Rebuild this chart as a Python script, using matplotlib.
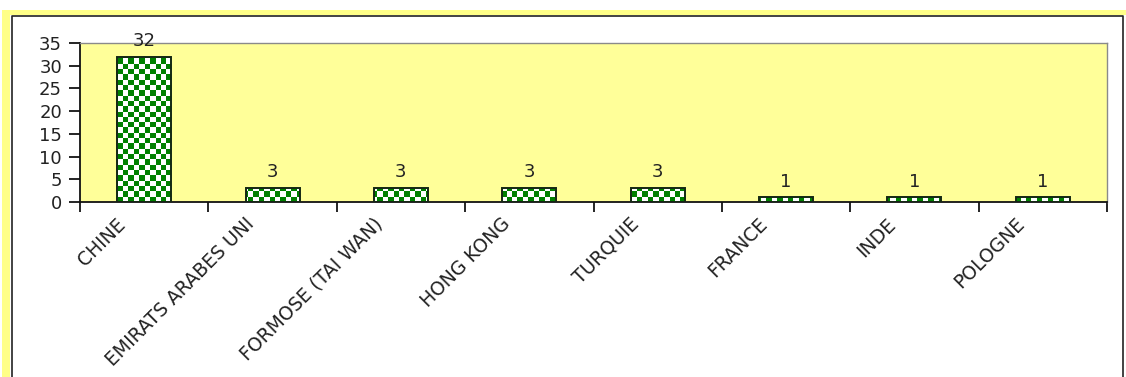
import matplotlib.pyplot as plt
import numpy as np
from matplotlib.lines import Line2D
from matplotlib.patches import Rectangle

# Data
pays = ["CHINE", "EMIRATS ARABES UNI", "FORMOSE (TAI WAN)", "HONG KONG",
        "TURQUIE", "FRANCE", "INDE", "POLOGNE"]
nombre = [32, 3, 3, 3, 3, 1, 1, 1]
y_ticks = [0, 5, 10, 15, 20, 25, 30, 35]

W, H = 1126, 377
fig = plt.figure(figsize=(W / 100, H / 100), dpi=100)
fig.patch.set_facecolor("white")

# Outer chart frame: yellow band on top/left, dark frame line inside
fig.patches.append(Rectangle((2 / W, (H - 15) / H), 1, 5 / H,
                             transform=fig.transFigure, color="#ffff88", lw=0))
fig.patches.append(Rectangle((2 / W, 0), 8 / W, (H - 10) / H,
                             transform=fig.transFigure, color="#ffff88", lw=0))
fig.lines.append(Line2D([12 / W, 12 / W, 1123 / W, 1123 / W],
                        [0, (H - 16) / H, (H - 16) / H, 0],
                        transform=fig.transFigure, color="#222222", lw=1.2))

ax = fig.add_axes([80 / W, (H - 202) / H, 1027 / W, 159 / H])
ax.set_facecolor("#ffff99")

x = np.arange(len(pays))
bars = ax.bar(x, nombre, width=0.42, facecolor="none", edgecolor="#142814",
              linewidth=1.4, zorder=3)

# Checkered green/white fill, clipped to each bar
checker = np.indices((30, 190)).sum(axis=0) % 2
cmap = plt.matplotlib.colors.ListedColormap(["#008000", "white"])
for b in bars:
    im = ax.imshow(checker, cmap=cmap, interpolation="nearest", aspect="auto",
                   extent=(0, 1, 0, 1), transform=ax.transAxes, zorder=2)
    im.set_clip_path(b)

ax.set_xlim(-0.5, len(pays) - 0.5)
ax.set_ylim(0, 35)
ax.set_yticks(y_ticks)

# Ticks at category boundaries; labels on invisible minor ticks,
# nudged a little left of the bar centres like the original
ax.set_xticks(np.arange(len(pays) + 1) - 0.5)
ax.set_xticklabels([])
ax.set_xticks(x - 0.22, minor=True)
ax.set_xticklabels(pays, minor=True, rotation=45, ha="right",
                   rotation_mode="anchor", fontsize=13.5, color="#222222")
ax.tick_params(axis="x", which="minor", length=0, pad=9)
ax.tick_params(axis="x", which="major", length=7, width=1.2, direction="out")
ax.tick_params(axis="y", length=8, width=1.2, direction="out",
               labelsize=13, labelcolor="#222222", pad=5)

for side in ["left", "bottom"]:
    ax.spines[side].set_color("#111111")
    ax.spines[side].set_linewidth(1.3)
for side in ["top", "right"]:
    ax.spines[side].set_color("#8a8a8a")
    ax.spines[side].set_linewidth(1.0)

ax.bar_label(bars, padding=5, fontsize=13, color="#222222")

plt.savefig("out.png", dpi=100)
